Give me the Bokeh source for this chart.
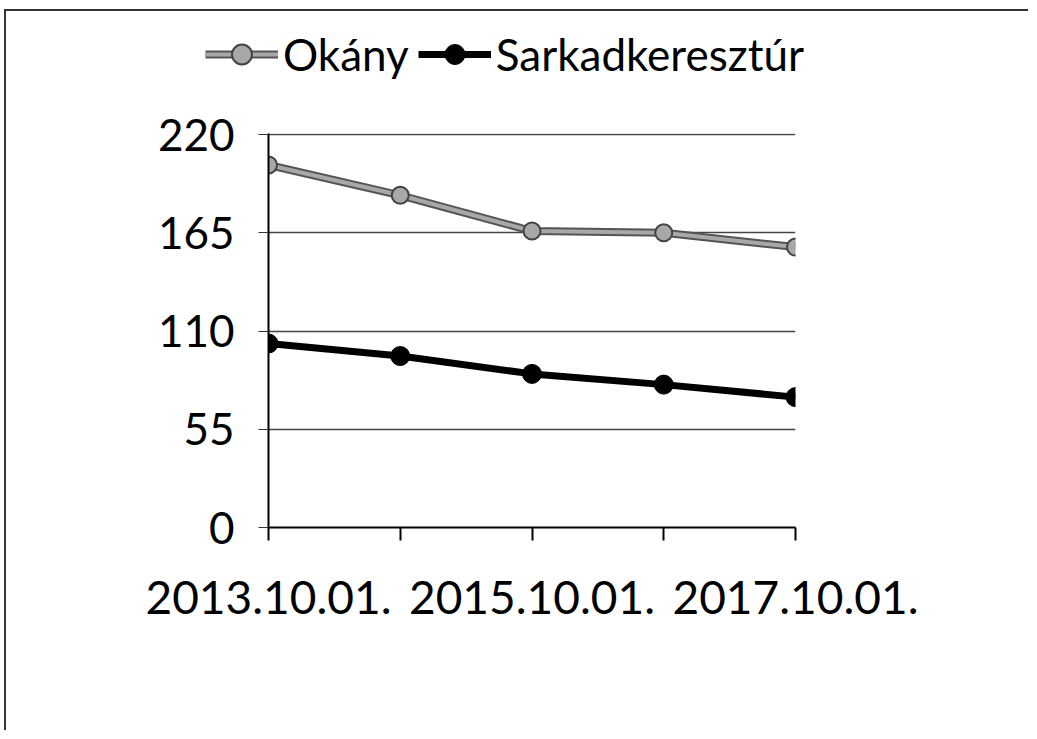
from bokeh.plotting import figure
from bokeh.models import FixedTicker, Legend, LegendItem, Range1d
from bokeh.layouts import column
from bokeh.embed import file_html
from bokeh.resources import INLINE

dates = ["2013.10.01.", "2014.10.01.", "2015.10.01.", "2016.10.01.", "2017.10.01."]
shown_labels = ["2013.10.01.", "", "2015.10.01.", "", "2017.10.01."]
okany = [203, 186, 166, 165, 157]
sarkad = [103, 96, 86, 80, 73]
y_ticks = [0, 55, 110, 165, 220]

xs = list(range(len(dates)))

FONT = "Lato"
W = 1022
LH = 91           # legend strip height
H = 628           # main figure height
FL, FT, FR, FB = 262, 31, 789, 425


def style_lines(fig):
    ok_out = fig.line(xs, okany, line_color="#555555", line_width=8)
    ok_in = fig.line(xs, okany, line_color="#a8a8a8", line_width=4)
    ok_pts = fig.scatter(xs, okany, marker="circle", size=17, fill_color="#a8a8a8",
                         line_color="#444444", line_width=2)
    sk_line = fig.line(xs, sarkad, line_color="black", line_width=7)
    sk_pts = fig.scatter(xs, sarkad, marker="circle", size=19, fill_color="black",
                         line_color="black")
    return [ok_out, ok_in, ok_pts], [sk_line, sk_pts]


# main chart
p = figure(width=W, height=H, output_backend="svg", toolbar_location=None,
           x_range=Range1d(0, len(dates) - 1), y_range=Range1d(0, 220.6),
           min_border_left=FL, min_border_top=FT,
           min_border_right=W - FR, min_border_bottom=H - FB)
p.outline_line_color = None
p.background_fill_color = "white"
p.border_fill_color = "white"
p.frame_align = False

p.yaxis.ticker = FixedTicker(ticks=y_ticks)
p.yaxis.major_label_text_font = FONT
p.yaxis.major_label_text_font_size = "44px"
p.yaxis.major_label_text_color = "black"
p.yaxis.major_tick_out = 10
p.yaxis.major_tick_in = 0
p.yaxis.minor_tick_out = 0
p.yaxis.minor_tick_in = 0
p.yaxis.major_label_standoff = 24
p.yaxis.axis_line_color = "black"
p.yaxis.axis_line_width = 2
p.yaxis.major_tick_line_color = "#333"
p.yaxis.major_tick_line_width = 1

p.xaxis.ticker = FixedTicker(ticks=xs)
p.xaxis.major_label_overrides = {i: lab for i, lab in enumerate(shown_labels)}
p.xaxis.major_label_text_font = FONT
p.xaxis.major_label_text_font_size = "46px"
p.xaxis.major_label_text_color = "black"
p.xaxis.major_tick_out = 13
p.xaxis.major_tick_in = 0
p.xaxis.minor_tick_out = 0
p.xaxis.minor_tick_in = 0
p.xaxis.major_label_standoff = 40
p.xaxis.axis_line_color = "black"
p.xaxis.axis_line_width = 2
p.xaxis.major_tick_line_color = "black"
p.xaxis.major_tick_line_width = 2

p.xgrid.grid_line_color = None
p.ygrid.ticker = FixedTicker(ticks=y_ticks[1:])
p.ygrid.grid_line_color = "#444"
p.ygrid.grid_line_width = 1.5

style_lines(p)

# legend strip (same series, drawn outside its visible range; only the legend shows)
lg = figure(width=W, height=LH, output_backend="svg", toolbar_location=None,
            x_range=Range1d(100, 101), y_range=Range1d(1000, 1001),
            min_border_left=0, min_border_right=0, min_border_top=0, min_border_bottom=0)
lg.axis.visible = False
lg.grid.visible = False
lg.outline_line_color = None
lg.border_fill_color = "white"
lg.background_fill_color = "white"
lg.frame_align = False
ok_r, sk_r = style_lines(lg)

legend = Legend(items=[
    LegendItem(label="Okány", renderers=ok_r),
    LegendItem(label="Sarkadkeresztúr", renderers=sk_r),
], orientation="horizontal", location=(199, 22))
legend.label_text_font = FONT
legend.label_text_font_size = "44px"
legend.label_text_color = "black"
legend.glyph_width = 73
legend.glyph_height = 50
legend.label_height = 50
legend.label_standoff = 5
legend.spacing = 9
legend.padding = 0
legend.margin = 0
legend.border_line_color = None
legend.background_fill_alpha = 0
lg.add_layout(legend, "center")

layout = column(lg, p, spacing=0)
layout.styles = {"border-top": "2px solid #333", "border-left": "2px solid #333",
                 "margin-top": "9px", "margin-left": "4px"}

open("out.html", "w").write(file_html(layout, INLINE))
